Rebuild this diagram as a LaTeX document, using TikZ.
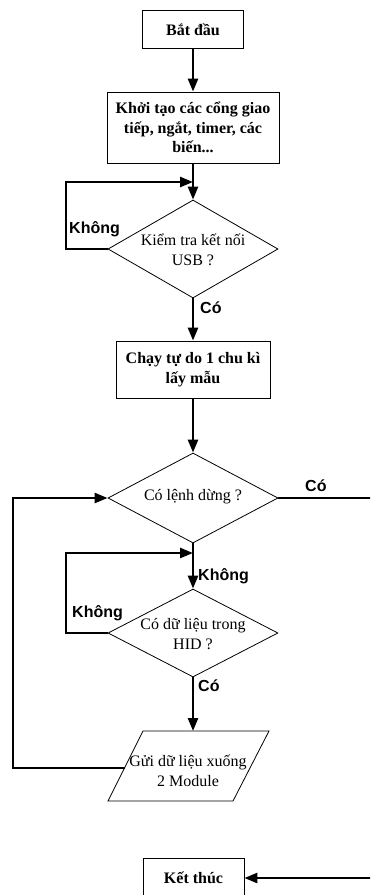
\documentclass[tikz,border=0pt]{standalone}
\usepackage{fontspec}
\setmainfont{Liberation Serif}
\newfontfamily\lblfont{Liberation Sans}
\usetikzlibrary{arrows.meta,shapes.geometric}
\begin{document}
\begin{tikzpicture}[x=1pt,y=-1pt,
  box/.style={draw, line width=0.8pt, inner sep=0pt, align=center, font=\fontsize{16}{19.5}\selectfont\bfseries},
  dia/.style={draw, diamond, line width=0.8pt, inner sep=0pt},
  txt/.style={align=center, inner sep=0pt, font=\fontsize{16}{19.5}\selectfont},
  lbl/.style={anchor=base west, inner sep=0pt, font=\lblfont\fontsize{16}{19}\selectfont\bfseries},
  flow/.style={line width=2.6pt, -{Triangle[length=13pt,width=10pt]}}]
\useasboundingbox (0,0) rectangle (370,895);
\fill[white] (0,0) rectangle (370,895);
\clip (0,0) rectangle (370,895);

\node[box, minimum width=101pt, minimum height=38pt] (start) at (193,29.5) {Bắt đầu};
\node[box, minimum width=172pt, minimum height=71pt] (init) at (193,127.5) {Khởi tạo các cổng giao\\tiếp, ngắt, timer, các\\biến...};
\node[dia, minimum width=170pt, minimum height=98pt] (usb) at (193,249) {};
\node[txt] (usbt) at (193,250) {Kiểm tra kết nối\\USB ?};
\node[box, minimum width=154pt, minimum height=57pt] (run) at (193,369.5) {Chạy tự do 1 chu kì\\lấy mẫu};
\node[dia, minimum width=170pt, minimum height=90pt] (stop) at (193,498) {};
\node[txt] (stopt) at (193,497) {Có lệnh dừng ?};
\node[dia, minimum width=170pt, minimum height=88pt] (hid) at (193,633) {};
\node[txt] (hidt) at (193,634) {Có dữ liệu trong\\HID ?};
\draw[line width=0.8pt] (143,731) -- (269,731) -- (233,801) -- (108,801) -- cycle;
\coordinate (ptop) at (193,731);
\coordinate (pleft) at (124.5,768);
\node[txt] (send) at (188,771) {Gửi dữ liệu xuống\\2 Module};
\node[box, minimum width=101pt, minimum height=39pt] (end) at (193.5,878) {Kết thúc};

\coordinate (m1) at (193,182);
\coordinate (c1) at (66,182);
\coordinate (m2) at (193,553);
\coordinate (c2) at (66,553);
\coordinate (c3) at (13,768);
\coordinate (r1) at (376,498);

\draw[flow] (start) -- (init);
\draw[flow] (init.south) -- (usb.north);
\draw[flow] (usb.west) -| (c1) -- (m1);
\draw[flow] (usb.south) -- (run.north);
\draw[flow] (run.south) -- (stop.north);
\draw[flow] (stop.south) -- (hid.north);
\draw[flow] (hid.west) -| (c2) -- (m2);
\draw[flow] (hid.south) -- (ptop);
\draw[flow] (pleft) -- (c3) |- (stop.west);
\draw[flow] (stop.east) -- (r1) |- (end.east);

\node[lbl] (l1) at (69,233) {Không};
\node[lbl] (l2) at (200,313) {Có};
\node[lbl] (l3) at (305,491) {Có};
\node[lbl] (l4) at (198,580) {Không};
\node[lbl] (l5) at (72,617) {Không};
\node[lbl] (l6) at (198,691) {Có};
\end{tikzpicture}
\end{document}
